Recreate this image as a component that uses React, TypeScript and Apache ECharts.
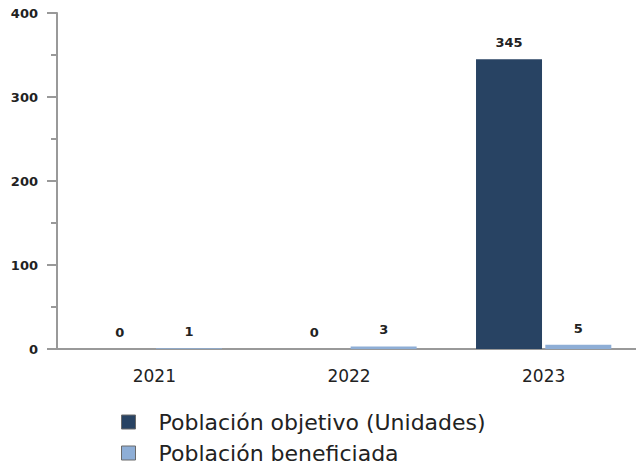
import React, { useEffect, useRef } from "react";
import * as echarts from "echarts";

const categories = ["2021", "2022", "2023"];
const objetivo = [0, 0, 345];
const beneficiada = [1, 3, 5];
const yTicks = [0, 100, 200, 300, 400];
const seriesNames = ["Población objetivo (Unidades)", "Población beneficiada"];

export default function App() {
  const ref = useRef<HTMLDivElement>(null);
  useEffect(() => {
    if (!ref.current) return;
    const chart = echarts.init(ref.current, undefined, { renderer: "svg" });
    const font = "DejaVu Sans";
    const legendBase = {
      orient: "vertical",
      left: 116,
      itemWidth: 14,
      itemHeight: 14,
      icon: "rect",
      itemStyle: { borderColor: "#6a6a6a", borderWidth: 1 },
      textStyle: { fontFamily: font, fontSize: 22, color: "#222", padding: [0, 0, 0, 18] },
    };
    const labelStyle = {
      show: true,
      position: "top",
      distance: 10,
      fontFamily: font,
      fontSize: 13,
      fontWeight: "bold",
      color: "#222",
    };
    chart.setOption({
      animation: false,
      textStyle: { fontFamily: font },
      grid: { left: 57, right: 0, top: 13, bottom: 118, containLabel: false },
      legend: [
        { ...legendBase, top: 406, data: [seriesNames[0]] },
        { ...legendBase, top: 437, data: [seriesNames[1]] },
      ],
      xAxis: {
        type: "category",
        data: categories,
        axisLine: { lineStyle: { color: "#999", width: 2 } },
        axisTick: { show: false },
        axisLabel: { fontFamily: font, fontSize: 17, color: "#222", margin: 18 },
      },
      yAxis: {
        type: "value",
        min: yTicks[0],
        max: yTicks[yTicks.length - 1],
        interval: 100,
        splitLine: { show: false },
        axisLine: { show: true, lineStyle: { color: "#999", width: 2 } },
        axisTick: { show: true, length: 10, lineStyle: { color: "#999", width: 2 } },
        minorTick: { show: true, splitNumber: 2, length: 6, lineStyle: { color: "#999", width: 2 } },
        axisLabel: { fontFamily: font, fontSize: 13, fontWeight: "bold", color: "#222", margin: 19 },
      },
      series: [
        {
          name: seriesNames[0],
          type: "bar",
          data: objetivo,
          barWidth: 66,
          barGap: "5%",
          itemStyle: { color: "#284363" },
          label: labelStyle,
        },
        {
          name: seriesNames[1],
          type: "bar",
          data: beneficiada,
          barWidth: 66,
          barGap: "5%",
          itemStyle: { color: "#8eaed6" },
          label: labelStyle,
        },
      ],
    });
    return () => chart.dispose();
  }, []);
  return (
    <div style={{ position: "absolute", left: 0, top: 0, width: 636, height: 467, overflow: "hidden" }}
    >
      <div ref={ref} style={{ width: 641, height: 467 }} />
    </div>
  );
}
